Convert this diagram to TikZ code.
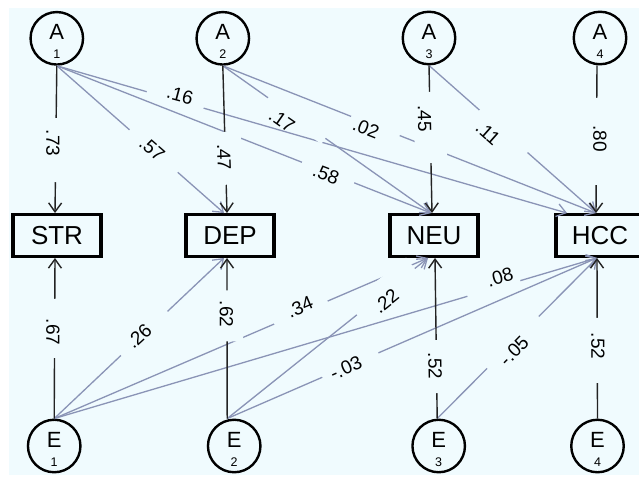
\documentclass[tikz,border=0pt]{standalone}
\usepackage{fontspec}
\setmainfont{Liberation Sans}
\usetikzlibrary{arrows.meta}
\definecolor{paper}{RGB}{240,251,254}
\definecolor{pathgray}{RGB}{138,148,182}
\definecolor{inkdark}{RGB}{35,35,35}

% letter with a small index underneath, centred on the node centre
\newcommand{\factorname}[2]{\smash{\makebox[0pt]{\raisebox{-1pt}{\fontsize{22}{22}\selectfont #1}}\makebox[0pt]{\raisebox{-20.5pt}{\fontsize{12.5}{12.5}\selectfont #2}}}}

\tikzset{
  latent/.style={circle, draw=black, line width=2.4pt, minimum size=52.5pt, inner sep=0pt, fill=paper},
  observed/.style={rectangle, draw=black, line width=3.4pt, minimum width=88pt, minimum height=41.5pt, inner sep=0pt, fill=paper, font=\fontsize{26}{26}\selectfont},
  loading/.style={line width=1.4pt, draw=inkdark, -{Straight Barb[length=9pt,width=13pt]}},
  crossload/.style={line width=1.3pt, draw=pathgray, -{Straight Barb[length=9pt,width=13pt]}},
  edgegap/.style={fill=paper, draw=none, inner sep=0pt, outer sep=0pt, minimum width=#1, minimum height=14pt, sloped},
  widegap/.style={edgegap=#1, minimum height=32pt},
  coef/.style={font=\fontsize{19}{19}\selectfont, inner sep=0pt, text=black},
}

\begin{document}
\begin{tikzpicture}[x=1pt, y=-1pt]
\useasboundingbox (0,0) rectangle (639,477);
\fill[white] (0,0) rectangle (639,477);
\fill[paper] (9,8) rectangle (639,475);

% factors
\node[latent] (A1) at (56.8,38.3) {\factorname{A}{1}};
\node[latent] (A2) at (222.8,38.3) {\factorname{A}{2}};
\node[latent] (A3) at (429,38) {\factorname{A}{3}};
\node[latent] (A4) at (600,38) {\factorname{A}{4}};
\node[latent] (E1) at (54.2,446) {\factorname{E}{1}};
\node[latent] (E2) at (234.2,446) {\factorname{E}{2}};
\node[latent] (E3) at (438.7,446) {\factorname{E}{3}};
\node[latent] (E4) at (597.5,446) {\factorname{E}{4}};

% observed scales
\node[observed] (STR) at (57,235.5) {STR};
\node[observed] (DEP) at (230,235.5) {DEP};
\node[observed] (NEU) at (434,235.5) {NEU};
\node[observed] (HCC) at (600,235.5) {HCC};

% cross loadings
\draw[crossload] (A1.south) -- ([xshift=-6pt]DEP.north);
\draw[crossload] (A1.south) -- ([xshift=-3pt]NEU.north);
\draw[crossload] (A1.south) -- ([xshift=-33pt]HCC.north);
\draw[crossload] (A2.south) -- ([xshift=-3pt]NEU.north);
\draw[crossload] (A2.south) -- ([xshift=-4pt]HCC.north);
\draw[crossload] (A3.south) -- ([xshift=-4pt]HCC.north);
\draw[crossload] (E1.north) -- ([xshift=-6pt]DEP.south);
\draw[crossload] (E1.north) -- ([xshift=-6pt]NEU.south);
\draw[crossload] (E1.north) -- ([xshift=-3pt]HCC.south);
\draw[crossload] ([xshift=-7pt]E2.north) -- ([xshift=-6pt]NEU.south);
\draw[crossload] ([xshift=-7pt]E2.north) -- ([xshift=-3pt]HCC.south);
\draw[crossload] ([xshift=-1.5pt]E3.north) -- ([xshift=-3pt]HCC.south);

% main loadings
\draw[loading] (A1.south) -- ([xshift=-2pt]STR.north);
\draw[loading] (A2.south) -- ([xshift=-3pt]DEP.north);
\draw[loading] (A3.south) -- ([xshift=-2pt]NEU.north);
\draw[loading] ([xshift=-3pt]A4.south) -- ([xshift=-4pt]HCC.north);
\draw[loading] (E1.north) -- ([xshift=-2pt]STR.south);
\draw[loading] ([xshift=-7pt]E2.north) -- ([xshift=-3pt]DEP.south);
\draw[loading] ([xshift=-1.5pt]E3.north) -- ([xshift=1pt]NEU.south);
\draw[loading] (E4.north) -- ([xshift=-3pt]HCC.south);

% breaks in the paths around the coefficients
\path (A1.south) -- ([xshift=-2pt]STR.north) node[widegap=64pt, pos=0.572] (g1) {};
\path (A1.south) -- ([xshift=-6pt]DEP.north) node[edgegap=64pt, pos=0.579] (g2) {};
\path (A1.south) -- ([xshift=-3pt]NEU.north) node[edgegap=56pt, pos=0.725] (g3) {};
\path (A1.south) -- ([xshift=-33pt]HCC.north) node[edgegap=59pt, pos=0.232] (g4) {};
\path (A2.south) -- ([xshift=-3pt]DEP.north) node[widegap=53pt, pos=0.628] (g5) {};
\path (A2.south) -- ([xshift=-3pt]NEU.north) node[edgegap=70pt, pos=0.355] (g6) {};
\path (A2.south) -- ([xshift=-4pt]HCC.north) node[edgegap=52pt, pos=0.409] (g7) {};
\path (A3.south) -- ([xshift=-2pt]NEU.north) node[widegap=71pt, pos=0.419] (g8) {};
\path (A3.south) -- ([xshift=-4pt]HCC.north) node[edgegap=64pt, pos=0.446] (g9) {};
\path ([xshift=-3pt]A4.south) -- ([xshift=-4pt]HCC.north) node[widegap=87pt, pos=0.514] (g10) {};
\path (E1.north) -- ([xshift=-2pt]STR.south) node[widegap=59pt, pos=0.561] (g11) {};
\path (E1.north) -- ([xshift=-6pt]DEP.south) node[edgegap=64pt, pos=0.530] (g12) {};
\path (E1.north) -- ([xshift=-6pt]NEU.south) node[edgegap=58pt, pos=0.660] (g13) {};
\path (E1.north) -- ([xshift=-3pt]HCC.south) node[edgegap=55pt, pos=0.810] (g14) {};
\path ([xshift=-7pt]E2.north) -- ([xshift=-3pt]DEP.south) node[widegap=51pt, pos=0.639] (g15) {};
\path ([xshift=-7pt]E2.north) -- ([xshift=-6pt]NEU.south) node[edgegap=74pt, minimum height=28pt, pos=0.79] (g16) {};
\path ([xshift=-7pt]E2.north) -- ([xshift=-3pt]HCC.south) node[edgegap=61pt, pos=0.333] (g17) {};
\path ([xshift=-1.5pt]E3.north) -- ([xshift=1pt]NEU.south) node[widegap=53pt, pos=0.324] (g18) {};
\path ([xshift=-1.5pt]E3.north) -- ([xshift=-3pt]HCC.south) node[edgegap=73pt, pos=0.474] (g19) {};
\path (E4.north) -- ([xshift=-3pt]HCC.south) node[widegap=65pt, pos=0.424] (g20) {};

% coefficients
\node[coef, rotate=-90] (c1) at (53,143) {.73};
\node[coef, rotate=-41] (c2) at (152,149) {.57};
\node[coef, rotate=-21] (c3) at (326,174) {.58};
\node[coef, rotate=-15] (c4) at (180,95) {.16};
\node[coef, rotate=-88] (c5) at (224,157) {.47};
\node[coef, rotate=-35] (c6) at (282,121) {.17};
\node[coef, rotate=-21.5] (c7) at (366,128) {.02};
\node[coef, rotate=-89] (c8) at (424.5,118.5) {.45};
\node[coef, rotate=-41.5] (c9) at (488,133) {.11};
\node[coef, rotate=-90] (c10) at (600,138.5) {.80};
\node[coef, rotate=-90] (c11) at (53,332) {.67};
\node[coef, rotate=42.5] (c12) at (139,336) {.26};
\node[coef, rotate=23] (c13) at (300,307) {.34};
\node[coef, rotate=16.4] (c14) at (500,277) {.08};
\node[coef, rotate=-90] (c15) at (226.5,314) {.62};
\node[coef, rotate=39] (c16) at (386,301) {.22};
\node[coef, rotate=24] (c17) at (346,368) {-.03};
\node[coef, rotate=-89] (c18) at (435,366) {.52};
\node[coef, rotate=45.5] (c19) at (514,351) {-.05};
\node[coef, rotate=-90] (c20) at (598,346) {.52};
\end{tikzpicture}
\end{document}
